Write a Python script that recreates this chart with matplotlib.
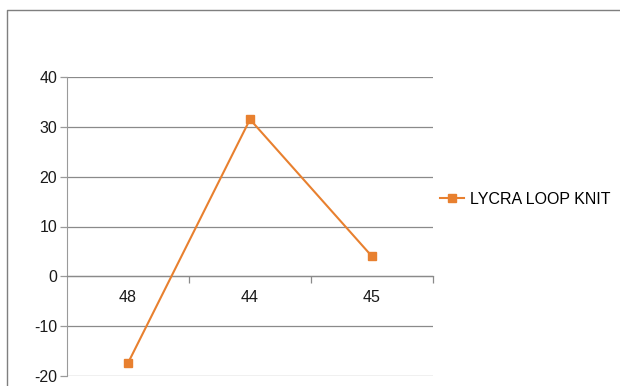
import numpy as np
import matplotlib.pyplot as plt
from matplotlib.lines import Line2D

plt.rcParams['font.family'] = ['Liberation Sans', 'DejaVu Sans']
plt.rcParams['axes.unicode_minus'] = False

categories = ['48', '44', '45']
values = [-17.4, 31.5, 4.0]
series_name = 'LYCRA LOOP KNIT'
yticks = [-20, -10, 0, 10, 20, 30, 40]

orange = '#E8802F'
grid_gray = '#8a8a8a'

#figure and frame (top and left border only)
fig = plt.figure(figsize=(6.2, 3.86), dpi=100)
left, top = 6.5 / 620, 1 - 9.5 / 386
fig.lines.append(Line2D([left, left, 1.0], [0.0, top, top], transform=fig.transFigure,
                        color='#7f7f7f', linewidth=1.0))

ax = fig.add_axes([67 / 620, 1 - 376 / 386, 366 / 620, 299 / 386])

x = np.arange(len(categories))
line, = ax.plot(x, values, color=orange, linewidth=1.5, marker='s',
                markersize=5.5, label=series_name, clip_on=False, zorder=3)

#axes limits
ax.set_xlim(-0.5, len(categories) - 0.5)
ax.set_ylim(-20, 40)

#grid
ax.set_yticks(yticks)
ax.yaxis.grid(True, color=grid_gray, linewidth=0.9)
ax.set_axisbelow(True)

#spines
for s in ['top', 'right']:
    ax.spines[s].set_visible(False)
ax.spines['left'].set_color('#9a9a9a')
ax.spines['bottom'].set_position(('data', 0))
ax.spines['bottom'].set_color(grid_gray)
ax.spines['bottom'].set_linewidth(0.9)

#ticks
ax.tick_params(axis='y', length=5, width=0.9, color='#9a9a9a', pad=2,
               labelsize=11.5, labelcolor='#1a1a1a')
ax.set_xticks(x)
ax.set_xticklabels(categories)
ax.tick_params(axis='x', which='major', length=0, pad=10, labelsize=11.5,
               labelcolor='#1a1a1a')
ax.set_xticks(x + 0.5, minor=True)
ax.tick_params(axis='x', which='minor', length=5, width=0.9, color=grid_gray,
               direction='out')

#legend
fig.legend(handles=[line], loc='center left', bbox_to_anchor=(440 / 620, 1 - 199 / 386),
           frameon=False, fontsize=11.5, handlelength=1.5, handletextpad=0.4,
           borderaxespad=0, borderpad=0)

fig.savefig('out.png', dpi=100)
